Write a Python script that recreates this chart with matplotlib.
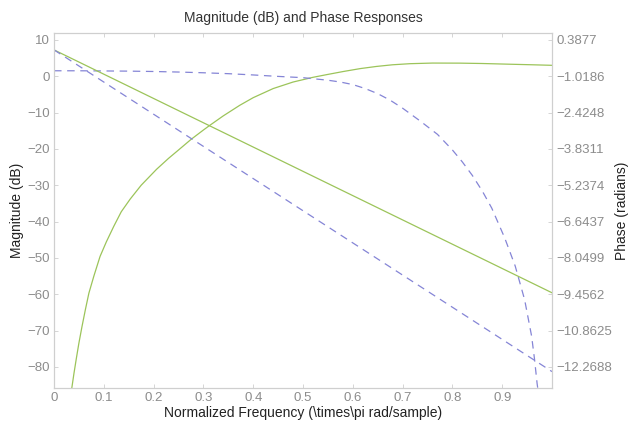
import matplotlib
matplotlib.use("Agg")
import matplotlib.pyplot as plt

plt.rcParams['font.family'] = ['Liberation Sans', 'DejaVu Sans']

# highpass magnitude (dB)
freq_hp = [0.0355, 0.040, 0.045, 0.050, 0.056, 0.063, 0.070, 0.080, 0.0924,
           0.105, 0.120, 0.135, 0.153, 0.175, 0.206, 0.23, 0.25, 0.275, 0.30,
           0.313, 0.34, 0.373, 0.40, 0.44, 0.48, 0.52, 0.55, 0.581, 0.615,
           0.648, 0.68, 0.715, 0.76, 0.815, 0.86, 0.916, 0.96, 1.0]
mag_hp = [-86.0, -81.8, -77.5, -73.4, -69.0, -64.2, -59.7, -55.0, -49.6,
          -45.6, -41.3, -37.3, -33.8, -30.0, -25.6, -22.6, -20.3, -17.4, -14.8,
          -13.5, -10.9, -8.0, -5.9, -3.4, -1.6, -0.3, 0.5, 1.3, 2.1,
          2.7, 3.15, 3.45, 3.62, 3.6, 3.5, 3.3, 3.15, 3.0]

# lowpass magnitude (dB)
freq_lp = [0.0, 0.05, 0.1, 0.15, 0.2, 0.25, 0.3, 0.35, 0.4, 0.45, 0.5, 0.55,
           0.575, 0.6, 0.625, 0.65, 0.675, 0.7, 0.735, 0.77, 0.80, 0.82, 0.84,
           0.86, 0.879, 0.905, 0.926, 0.945, 0.959, 0.965, 0.970, 0.9715]
mag_lp = [1.5, 1.5, 1.45, 1.4, 1.3, 1.15, 0.95, 0.7, 0.35, -0.05, -0.4, -1.1,
          -1.6, -2.3, -3.4, -4.8, -6.6, -8.8, -12.3, -16.0, -20.3, -23.6, -27.3,
          -31.6, -36.3, -44.5, -52.2, -61.5, -71.5, -78.0, -84.5, -86.0]

# phase responses (radians)
freq_ph = [0.0, 1.0]
phase_hp = [0.0, -9.40]
phase_lp = [0.0, -12.45]

mag_ticks = [10, 0, -10, -20, -30, -40, -50, -60, -70, -80]
phase_labels = ['0.3877', '-1.0186', '-2.4248', '-3.8311', '-5.2374', '-6.6437',
                '-8.0499', '-9.4562', '-10.8625', '-12.2688']
freq_ticks = [0, 0.1, 0.2, 0.3, 0.4, 0.5, 0.6, 0.7, 0.8, 0.9]

green = '#9cc45a'
blue = '#8585d6'
tick_col = '#8c8c8c'
spine_col = '#cfcfcf'

ylim = (-85.8, 11.9)
p_top = float(phase_labels[0])
p_bot = float(phase_labels[-1])
slope = (p_top - p_bot) / (mag_ticks[0] - mag_ticks[-1])


def db2rad(d):
    return p_top + (d - mag_ticks[0]) * slope


fig = plt.figure(figsize=(6.29, 4.25), dpi=100)
ax = fig.add_axes([0.0859, 0.0871, 0.7917, 0.8353])
ax2 = ax.twinx()

ax.plot(freq_hp, mag_hp, '-', color=green, lw=0.9)
ax.plot(freq_lp, mag_lp, '--', color=blue, lw=0.9, dashes=(6, 4.5))
ax2.plot(freq_ph, phase_hp, '-', color=green, lw=0.9)
ax2.plot(freq_ph, phase_lp, '--', color=blue, lw=0.9, dashes=(6, 4.5))

ax.set_xlim(0, 1)
ax.set_ylim(*ylim)
ax2.set_ylim(db2rad(ylim[0]), db2rad(ylim[1]))

ax.set_xticks(freq_ticks)
ax.set_xticklabels([('%g' % t) for t in freq_ticks])
ax.set_yticks(mag_ticks)
ax.set_yticklabels([str(t).replace('-', '\u2212') for t in mag_ticks])
ax2.set_yticks([float(s) for s in phase_labels])
ax2.set_yticklabels([s.replace('-', '\u2212') for s in phase_labels])

for a in (ax, ax2):
    a.tick_params(direction='in', length=3, width=0.6, colors=spine_col,
                  labelcolor=tick_col, labelsize=9.5, pad=3)
    for s in a.spines.values():
        s.set_color(spine_col)
        s.set_linewidth(0.8)
ax.tick_params(top=True)

ax.set_title('Magnitude (dB) and Phase Responses', fontsize=10, color='#333333', pad=8)
ax.set_xlabel('Normalized Frequency (\\times\\pi rad/sample)', fontsize=10,
              color='#222222', labelpad=1)
ax.set_ylabel('Magnitude (dB)', fontsize=10, color='#222222', labelpad=2)
ax2.set_ylabel('Phase (radians)', fontsize=10, color='#222222', labelpad=2)

fig.savefig('out.png', dpi=100)
